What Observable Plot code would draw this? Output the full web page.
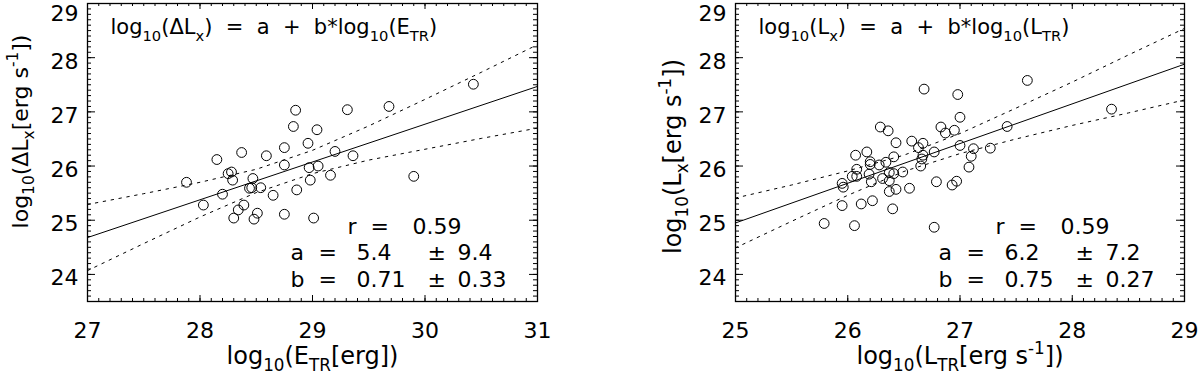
<!DOCTYPE html>
<html><head><meta charset="utf-8">
<script src="https://cdn.jsdelivr.net/npm/d3@7"></script>
<script src="https://cdn.jsdelivr.net/npm/@observablehq/plot@0.6"></script>
<style>
body{margin:0;background:#fff;}
#wrap{display:flex;width:1200px;height:376px;overflow:hidden;}
</style></head><body><div id="wrap"></div>
<script>
// ---------- left panel data: log10(E_TR) vs log10(ΔLx) ----------
const leftE  = [27.88,28.03,28.15,28.20,28.25,28.28,28.29,28.30,28.34,28.37,28.39,28.44,28.46,28.47,28.48,28.51,28.54,28.59,28.65,28.75,28.75,28.75,28.83,28.85,28.86,28.96,28.97,28.98,29.01,29.04,29.05,29.16,29.20,29.31,29.36,29.68,29.90,30.43];
const leftDL = [25.70,25.28,26.12,25.48,25.86,25.89,25.74,25.04,25.19,26.25,25.28,25.59,25.60,25.77,25.02,25.13,25.60,26.19,25.46,25.11,26.34,26.02,26.73,27.03,25.56,26.42,25.97,25.74,25.04,26.67,26.00,25.83,26.27,27.04,26.19,27.10,25.81,27.51];
const leftFitX = [27, 31];
const leftFitY = [24.68, 27.47];
const leftBandX  = [27, 27.5, 28, 28.5, 29, 29.5, 30, 30.5, 31];
const leftUpperY = [25.29, 25.49, 25.70, 25.94, 26.29, 26.74, 27.23, 27.73, 28.24];
const leftLowerY = [24.07, 24.57, 25.06, 25.51, 25.86, 26.11, 26.31, 26.51, 26.70];
const leftStatNames  = ["r", "a", "b"];
const leftStatValues = ["0.59", "5.4", "0.71"];
const leftStatErrors = ["", "9.4", "0.33"];

// ---------- right panel data: log10(L_TR) vs log10(Lx) ----------
const rightLTR = [26.68,26.98,27.00,26.29,26.36,26.83,26.87,26.95,26.43,26.57,26.67,26.63,26.77,27.00,27.12,27.27,27.10,27.08,26.17,26.07,26.20,26.41,26.34,26.28,26.20,26.67,26.66,26.65,26.08,26.04,26.08,26.19,26.31,26.37,26.41,26.49,26.21,25.95,25.96,26.37,26.79,26.93,26.97,26.37,26.43,26.55,25.95,26.12,26.22,26.40,25.79,26.06,26.77,27.60,28.35,27.42];
const rightLX  = [27.42,27.32,26.90,26.72,26.65,26.72,26.61,26.66,26.43,26.46,26.42,26.34,26.26,26.38,26.32,26.33,26.18,25.98,26.26,26.20,26.08,26.17,26.07,26.02,26.03,26.20,26.13,26.00,25.94,25.81,25.81,25.85,25.77,25.88,25.86,25.89,25.71,25.68,25.61,25.73,25.71,25.65,25.72,25.53,25.57,25.59,25.27,25.30,25.36,25.21,24.94,24.90,24.87,27.58,27.05,26.73];
const rightFitX = [25, 29];
const rightFitY = [24.95, 27.88];
const rightBandX  = [25, 25.5, 26, 26.5, 27, 27.5, 28, 28.5, 29];
const rightUpperY = [25.41, 25.65, 25.91, 26.20, 26.60, 27.07, 27.55, 28.05, 28.54];
const rightLowerY = [24.49, 24.98, 25.46, 25.90, 26.23, 26.50, 26.75, 26.98, 27.22];
const rightStatNames  = ["r", "a", "b"];
const rightStatValues = ["0.59", "6.2", "0.75"];
const rightStatErrors = ["", "7.2", "0.27"];

// ---------- axes ----------
const leftXTicks  = [27, 28, 29, 30, 31];
const rightXTicks = [25, 26, 27, 28, 29];
const yDomain = [23.5, 29];
const yTicksLow = [24, 25, 26, 27, 28];
const yTicksTop = [29];

const leftTitle  = "log_{10}(ΔL_{x})  =  a  +  b*log_{10}(E_{TR})";
const rightTitle = "log_{10}(L_{x})  =  a  +  b*log_{10}(L_{TR})";
const leftXLabel  = "log_{10}(E_{TR}[erg])";
const rightXLabel = "log_{10}(L_{TR}[erg s^{-1}])";
const leftYLabel  = "log_{10}(ΔL_{x}[erg s^{-1}])";
const rightYLabel = "log_{10}(L_{x}[erg s^{-1}])";

const FONT = "'DejaVu Sans', sans-serif";

function panel(o) {
  const W = 600, H = 376, mt = 3, mb = 75;
  const fw = W - o.ml - o.mr, fh = H - mt - mb;
  const xMinor = d3.range(Math.round(o.xDomain[0]*10), Math.round(o.xDomain[1]*10)+1).map(v => v/10);
  const yMinor = d3.range(235, 291).map(v => v/10);
  const pts = o.xs.map((x, i) => ({x, y: o.ys[i]}));
  const fit = o.fitX.map((x, i) => ({x, y: o.fitY[i]}));
  const up = o.bandX.map((x, i) => ({x, y: o.upY[i]}));
  const lo = o.bandX.map((x, i) => ({x, y: o.loY[i]}));
  const rowDy = [223, 249, 276];
  const statMarks = [];
  o.names.forEach((n, i) => {
    const first = i === 0;
    const cols = first
      ? [[n, 260], ["=", 283], [o.vals[i], 325]]
      : [[n, 203], ["=", 231], [o.vals[i], 269], ["±", 340], [o.errs[i], 370]];
    cols.forEach(([s, dx]) => statMarks.push(
      Plot.text([s], {frameAnchor: "top-left", text: d => d, dx, dy: rowDy[i], textAnchor: "start", lineAnchor: "middle", fontSize: 22})
    ));
  });
  const svg = Plot.plot({
    width: W, height: H,
    marginLeft: o.ml, marginRight: o.mr, marginTop: mt, marginBottom: mb,
    style: {fontFamily: FONT, fontSize: "22px", background: "white", color: "black", overflow: "visible"},
    x: {domain: o.xDomain},
    y: {domain: yDomain},
    marks: [
      Plot.tickX(xMinor, {x: d => d, insetTop: fh - 3, strokeWidth: 1}),
      Plot.tickX(xMinor, {x: d => d, insetBottom: fh - 3, strokeWidth: 1}),
      Plot.tickX(o.xTicks, {x: d => d, insetTop: fh - 6, strokeWidth: 1}),
      Plot.tickX(o.xTicks, {x: d => d, insetBottom: fh - 6, strokeWidth: 1}),
      Plot.tickY(yMinor, {y: d => d, insetRight: fw - 4, strokeWidth: 1}),
      Plot.tickY(yMinor, {y: d => d, insetLeft: fw - 4, strokeWidth: 1}),
      Plot.tickY([...yTicksLow, ...yTicksTop], {y: d => d, insetRight: fw - 8, strokeWidth: 1}),
      Plot.tickY([...yTicksLow, ...yTicksTop], {y: d => d, insetLeft: fw - 8, strokeWidth: 1}),
      Plot.frame({stroke: "black", strokeWidth: 1.3}),
      Plot.axisX({ticks: o.xTicks, tickSize: 0, tickPadding: 21, fontSize: 22, label: null, tickFormat: d => String(d)}),
      Plot.axisY({ticks: yTicksLow, tickSize: 0, tickPadding: 9, dy: 4, fontSize: 22, label: null, tickFormat: d => String(d)}),
      Plot.axisY({ticks: yTicksTop, tickSize: 0, tickPadding: 9, dy: 10, fontSize: 22, label: null, tickFormat: d => String(d)}),
      Plot.line(up, {x: "x", y: "y", stroke: "black", strokeWidth: 1, strokeDasharray: "2.5,5.5"}),
      Plot.line(lo, {x: "x", y: "y", stroke: "black", strokeWidth: 1, strokeDasharray: "2.5,5.5"}),
      Plot.line(fit, {x: "x", y: "y", stroke: "black", strokeWidth: 1}),
      Plot.dot(pts, {x: "x", y: "y", r: 4.9, stroke: "black", strokeWidth: 1, fill: "none"}),
      Plot.text([o.title], {frameAnchor: "top-left", text: d => d, dx: 23, dy: 24, textAnchor: "start", lineAnchor: "middle", fontSize: 21}),
      ...statMarks,
      Plot.text([o.xLabel], {frameAnchor: "bottom", text: d => d, dy: 55, textAnchor: "middle", lineAnchor: "middle", fontSize: 24}),
      Plot.text([o.yLabel], {frameAnchor: "left", text: d => d, rotate: -90, dx: o.yLabelDx, dy: o.yLabelDy, textAnchor: "middle", lineAnchor: "middle", fontSize: o.yLabelSize})
    ]
  });
  richify(svg);
  return svg;
}

// convert _{...} and ^{...} into real sub/superscript tspans
function richify(svg) {
  svg.querySelectorAll("text").forEach(t => {
    const s = t.textContent;
    if (!/[_^]\{/.test(s)) return;
    let el = t;
    let fs = 22;
    while (el && el !== svg) {
      const a = el.getAttribute && el.getAttribute("font-size");
      if (a) { fs = parseFloat(a); break; }
      el = el.parentNode;
    }
    while (t.firstChild) t.removeChild(t.firstChild);
    const re = /([_^])\{([^}]*)\}/g;
    let last = 0, m, shift = 0;
    const ns = "http://www.w3.org/2000/svg";
    const add = (txt, kind) => {
      if (!txt) return;
      const sp = document.createElementNS(ns, "tspan");
      let target = kind === "_" ? 0.3 * fs : kind === "^" ? -0.42 * fs : 0;
      const d = target - shift;
      if (d) sp.setAttribute("dy", d.toFixed(2));
      shift = target;
      if (kind) sp.setAttribute("font-size", (0.7 * fs).toFixed(1));
      sp.textContent = txt;
      t.appendChild(sp);
    };
    while ((m = re.exec(s))) {
      add(s.slice(last, m.index), null);
      add(m[2], m[1]);
      last = re.lastIndex;
    }
    add(s.slice(last), null);
  });
}

const wrap = document.getElementById("wrap");
wrap.appendChild(panel({
  ml: 87, mr: 63, xDomain: [27, 31], xTicks: leftXTicks,
  xs: leftE, ys: leftDL, fitX: leftFitX, fitY: leftFitY,
  bandX: leftBandX, upY: leftUpperY, loY: leftLowerY,
  names: leftStatNames, vals: leftStatValues, errs: leftStatErrors,
  title: leftTitle, xLabel: leftXLabel, yLabel: leftYLabel,
  yLabelDx: -67, yLabelDy: -21, yLabelSize: 22
}));
wrap.appendChild(panel({
  ml: 135, mr: 16, xDomain: [25, 29], xTicks: rightXTicks,
  xs: rightLTR, ys: rightLX, fitX: rightFitX, fitY: rightFitY,
  bandX: rightBandX, upY: rightUpperY, loY: rightLowerY,
  names: rightStatNames, vals: rightStatValues, errs: rightStatErrors,
  title: rightTitle, xLabel: rightXLabel, yLabel: rightYLabel,
  yLabelDx: -62, yLabelDy: 4, yLabelSize: 24
}));
</script></body></html>
